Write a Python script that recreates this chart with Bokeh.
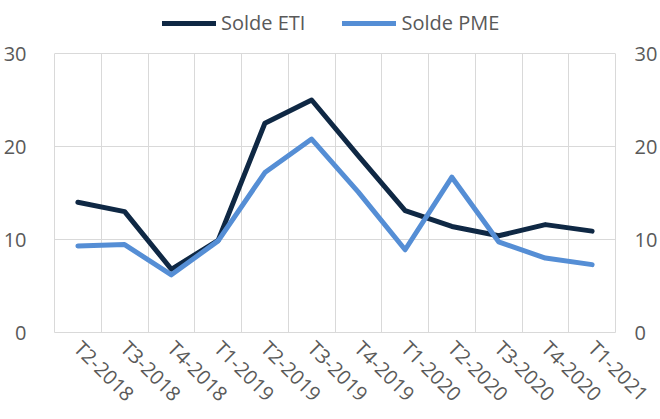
from bokeh.plotting import figure
from bokeh.models import (FactorRange, Range1d, LinearAxis, FixedTicker, Legend, LegendItem)
from bokeh.embed import file_html
from bokeh.resources import INLINE
import math

categories = ["T2-2018", "T3-2018", "T4-2018", "T1-2019", "T2-2019", "T3-2019",
              "T4-2019", "T1-2020", "T2-2020", "T3-2020", "T4-2020", "T1-2021"]
solde_eti = [14.0, 13.0, 6.8, 9.9, 22.5, 25.0, 19.0, 13.1, 11.4, 10.4, 11.6, 10.9]
solde_pme = [9.3, 9.45, 6.2, 9.85, 17.2, 20.8, 15.1, 8.9, 16.7, 9.75, 8.0, 7.3]
y_ticks = [0, 10, 20, 30]

FONT = "Open Sans"
TXT = "#595959"
GRID = "#D9D9D9"
C_ETI = "#0F2844"
C_PME = "#558ED5"

FRAME_H = 332          # expected plot-frame height in px (layout)
TOP_GAP = 53           # room above the 30 line for the legend (layout)
Y_MAX = 30 * FRAME_H / (FRAME_H - TOP_GAP)

p = figure(width=660, height=419, output_backend="svg", toolbar_location=None,
           x_range=FactorRange(*categories, range_padding=0),
           y_range=Range1d(0, Y_MAX), min_border_top=0, min_border_left=0,
           min_border_right=0, min_border_bottom=0)
p.background_fill_color = "white"
p.border_fill_color = "white"
p.outline_line_color = None

r1 = p.line(categories, solde_eti, line_color=C_ETI, line_width=5,
            line_cap="round", line_join="round")
r2 = p.line(categories, solde_pme, line_color=C_PME, line_width=5,
            line_cap="round", line_join="round")

# grids
p.xgrid.ticker = FixedTicker(ticks=list(range(0, len(categories) + 1)))
p.xgrid.grid_line_color = GRID
p.xgrid.cross_bounds = (0, 30)
p.ygrid.ticker = FixedTicker(ticks=y_ticks)
p.ygrid.grid_line_color = GRID

# axes
p.yaxis.ticker = FixedTicker(ticks=y_ticks)
ra = LinearAxis(ticker=FixedTicker(ticks=y_ticks))
p.add_layout(ra, "right")
for ax in [p.yaxis[0], ra]:
    ax.axis_line_color = GRID
    ax.bounds = (0, 30)
    ax.major_tick_line_color = None
    ax.minor_tick_line_color = None
    ax.major_label_text_font = FONT
    ax.major_label_text_font_size = "20px"
    ax.major_label_text_color = TXT
p.yaxis[0].major_label_standoff = 22
ra.major_label_standoff = 13

xa = p.xaxis[0]
xa.axis_line_color = GRID
xa.major_tick_line_color = None
xa.minor_tick_line_color = None
xa.major_label_orientation = -math.pi / 4
xa.major_label_text_font = FONT
xa.major_label_text_font_size = "20px"
xa.major_label_text_color = TXT
xa.major_label_standoff = 6

legend = Legend(items=[LegendItem(label="Solde ETI", renderers=[r1]),
                       LegendItem(label="Solde PME", renderers=[r2])],
                orientation="horizontal", location=(108, 296),
                glyph_width=54, glyph_height=20, label_height=20,
                label_standoff=5, spacing=37, padding=0, margin=0,
                border_line_color=None, background_fill_alpha=0,
                label_text_font=FONT, label_text_font_size="20px",
                label_text_color=TXT)
p.add_layout(legend, "center")

open("out.html", "w").write(file_html(p, INLINE))
